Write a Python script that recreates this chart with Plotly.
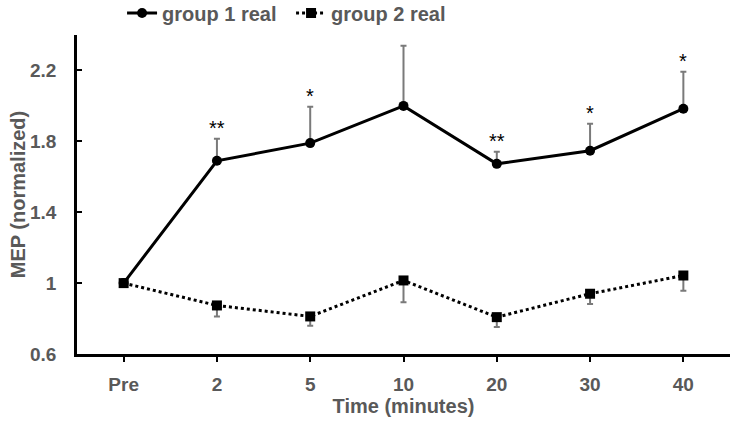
import plotly.graph_objects as go

categories = ["Pre", "2", "5", "10", "20", "30", "40"]
group1 = [1.0, 1.69, 1.79, 2.00, 1.673, 1.747, 1.984]
group1_err_up = [0.0, 0.125, 0.205, 0.34, 0.068, 0.152, 0.209]
group2 = [1.0, 0.874, 0.812, 1.015, 0.808, 0.94, 1.043]
group2_err_down = [0.0, 0.062, 0.053, 0.123, 0.056, 0.058, 0.086]
sig_labels = ["", "**", "*", "", "**", "*", "*"]
y_ticks = [0.6, 1.0, 1.4, 1.8, 2.2]
y_tick_text = ["0.6", "1", "1.4", "1.8", "2.2"]

FONT = "Liberation Sans, Arial, sans-serif"
GRAY = "#595959"

fig = go.Figure()
fig.add_trace(go.Scatter(
    x=categories, y=group1, name="group 1 real", mode="lines+markers",
    line=dict(color="black", width=3),
    marker=dict(symbol="circle", size=10, color="black"),
    error_y=dict(type="data", symmetric=False, array=group1_err_up,
                 arrayminus=[0] * len(group1), color="#7a7a7a", thickness=2, width=3),
))
fig.add_trace(go.Scatter(
    x=categories, y=group2, name="group 2 real", mode="lines+markers",
    line=dict(color="black", width=3, dash="dot"),
    marker=dict(symbol="square", size=10, color="black"),
    error_y=dict(type="data", symmetric=False, array=[0] * len(group2),
                 arrayminus=group2_err_down, color="#7a7a7a", thickness=2, width=3),
))

for i, (v, e, s) in enumerate(zip(group1, group1_err_up, sig_labels)):
    if s:
        fig.add_annotation(x=i, y=v + e, text=s, showarrow=False, yanchor="bottom",
                           yshift=-2, font=dict(family=FONT, size=20, color="black"))

fig.update_layout(
    width=737, height=424,
    margin=dict(l=77, r=7, t=35, b=70, autoexpand=False),
    paper_bgcolor="white", plot_bgcolor="white",
    font=dict(family=FONT, color=GRAY),
    showlegend=True,
    legend=dict(orientation="h", x=0.069, y=1.069, xanchor="left", yanchor="middle",
                font=dict(family=FONT, size=20, color=GRAY, weight="bold"),
                itemwidth=30, entrywidth=124, bgcolor="rgba(0,0,0,0)"),
    xaxis=dict(
        type="category", range=[-0.5, 6.5], showgrid=False,
        showline=True, linecolor="black", linewidth=2.5,
        ticks="outside", ticklen=5, tickwidth=2, tickcolor="black",
        ticklabelstandoff=6,
        tickfont=dict(family=FONT, size=19, color=GRAY, weight="bold"),
        title=dict(text="Time (minutes)", standoff=4,
                   font=dict(family=FONT, size=20, color=GRAY, weight="bold")),
    ),
    yaxis=dict(
        range=[0.6, 2.4], showgrid=False, zeroline=False,
        showline=True, linecolor="black", linewidth=2.5,
        tickvals=y_ticks, ticktext=y_tick_text,
        ticks="inside", ticklen=5, tickwidth=2, tickcolor="black",
        ticklabelstandoff=14,
        tickfont=dict(family=FONT, size=19, color=GRAY, weight="bold"),
        title=dict(text="MEP (normalized)", standoff=0,
                   font=dict(family=FONT, size=20, color=GRAY, weight="bold")),
    ),
)

fig.write_html("out.html", config={"displayModeBar": False},
               post_script="document.body.style.margin='0';")
